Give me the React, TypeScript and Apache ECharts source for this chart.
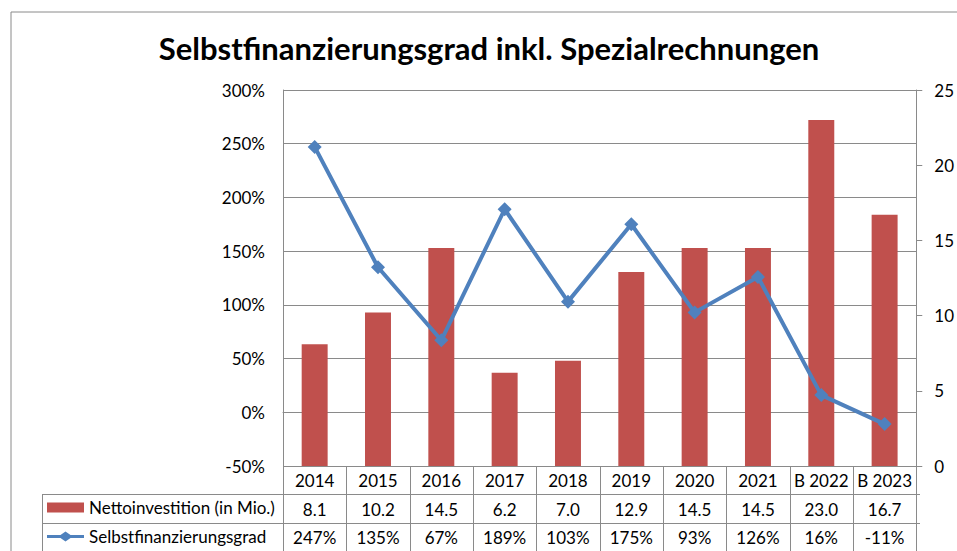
import React, { useEffect, useRef } from "react";
import * as echarts from "echarts";

const TITLE = "Selbstfinanzierungsgrad inkl. Spezialrechnungen";
const categories = ["2014", "2015", "2016", "2017", "2018", "2019", "2020", "2021", "B 2022", "B 2023"];
const netto = [8.1, 10.2, 14.5, 6.2, 7.0, 12.9, 14.5, 14.5, 23.0, 16.7];
const grad = [247, 135, 67, 189, 103, 175, 93, 126, 16, -11];
const NETTO_NAME = "Nettoinvestition (in Mio.)";
const GRAD_NAME = "Selbstfinanzierungsgrad";

const FONT = "Lato, 'Open Sans', sans-serif";
const GRAY = "#8a8a8a";
const FS = 17;
const LINE_ICON = "path://M0,3.6 L13.5,3.6 L18.5,0 L23.5,3.6 L37,3.6 L37,6.4 L23.5,6.4 L18.5,10 L13.5,6.4 L0,6.4 Z";

export default function App() {
  const ref = useRef<HTMLDivElement>(null);
  useEffect(() => {
    if (!ref.current) return;
    const chart = echarts.init(ref.current, null, { renderer: "svg" });
    const staticGraphic: any[] = [
      {
        type: "rect",
        shape: { x: 11, y: 12, width: 960, height: 560 },
        style: { fill: "none", stroke: GRAY, lineWidth: 1 },
        silent: true,
      },
      {
        type: "text",
        x: 489,
        y: 48,
        style: {
          text: TITLE,
          font: `bold 31px ${FONT}`,
          fill: "#000",
          textAlign: "center",
          textVerticalAlign: "middle",
        },
      },
      { type: "line", shape: { x1: 42, y1: 494.5, x2: 920, y2: 494.5 }, style: { stroke: GRAY, lineWidth: 1 } },
      { type: "line", shape: { x1: 42, y1: 523.5, x2: 920, y2: 523.5 }, style: { stroke: GRAY, lineWidth: 1 } },
      { type: "line", shape: { x1: 42.5, y1: 494, x2: 42.5, y2: 560 }, style: { stroke: GRAY, lineWidth: 1 } },
    ];
    const legendBase = {
      orient: "horizontal",
      left: 47,
      padding: 0,
      itemWidth: 37,
      itemHeight: 10,
      textStyle: { fontSize: FS, color: "#000", fontFamily: FONT },
      selectedMode: false,
    };
    chart.setOption({
      animation: false,
      backgroundColor: "#fff",
      textStyle: { fontFamily: FONT },
      graphic: staticGraphic,
      legend: [
        { ...legendBase, top: 499, data: [{ name: NETTO_NAME, icon: "rect" }] },
        { ...legendBase, top: 528, data: [{ name: GRAD_NAME, icon: LINE_ICON }] },
      ],
      grid: { left: 283, right: 37, top: 90, bottom: 85, containLabel: false },
      xAxis: {
        type: "category",
        data: categories,
        boundaryGap: true,
        axisLine: { show: true, lineStyle: { color: GRAY, width: 1 } },
        axisTick: { show: false },
        axisLabel: {
          interval: 0,
          margin: 0,
          formatter: (value: string, index: number) =>
            `{c|${value}}\n{c|${netto[index].toFixed(1)}}\n{c|${grad[index]}%}`,
          rich: {
            c: { fontSize: FS, lineHeight: 28.7, color: "#000", fontFamily: FONT },
          },
        },
      },
      yAxis: [
        {
          type: "value",
          min: -50,
          max: 300,
          interval: 50,
          axisLine: { show: true, lineStyle: { color: GRAY, width: 1 } },
          axisTick: { show: false },
          splitLine: { show: true, lineStyle: { color: GRAY, width: 1 } },
          axisLabel: { formatter: "{value}%", fontSize: FS, color: "#000", margin: 18, fontFamily: FONT },
        },
        {
          type: "value",
          min: 0,
          max: 25,
          interval: 5,
          position: "right",
          axisLine: { show: true, lineStyle: { color: GRAY, width: 1 } },
          axisTick: { show: true, inside: false, length: 6, lineStyle: { color: GRAY } },
          splitLine: { show: false },
          axisLabel: { fontSize: FS, color: "#000", margin: 18, fontFamily: FONT },
        },
      ],
      series: [
        {
          name: NETTO_NAME,
          type: "bar",
          yAxisIndex: 1,
          data: netto,
          barWidth: "41%",
          itemStyle: { color: "#C0504D" },
        },
        {
          name: GRAD_NAME,
          type: "line",
          yAxisIndex: 0,
          data: grad,
          symbol: "diamond",
          symbolSize: 14,
          lineStyle: { color: "#4F81BD", width: 4 },
          itemStyle: { color: "#4F81BD" },
        },
      ],
    });
    // table column borders from the category axis scale
    const p0 = chart.convertToPixel({ xAxisIndex: 0 }, 0) as number;
    const p1 = chart.convertToPixel({ xAxisIndex: 0 }, 1) as number;
    const band = p1 - p0;
    const verticals: any[] = [];
    for (let i = 0; i <= categories.length; i++) {
      const x = Math.round(p0 - band / 2 + i * band) + 0.5;
      verticals.push({
        type: "line",
        shape: { x1: x, y1: 466, x2: x, y2: 560 },
        style: { stroke: GRAY, lineWidth: 1 },
        silent: true,
      });
    }
    chart.setOption({ graphic: [...staticGraphic, ...verticals] });
    return () => chart.dispose();
  }, []);
  return (
    <div
      ref={ref}
      style={{ position: "fixed", left: 0, top: 0, width: 957, height: 551, background: "#fff" }}
    />
  );
}
